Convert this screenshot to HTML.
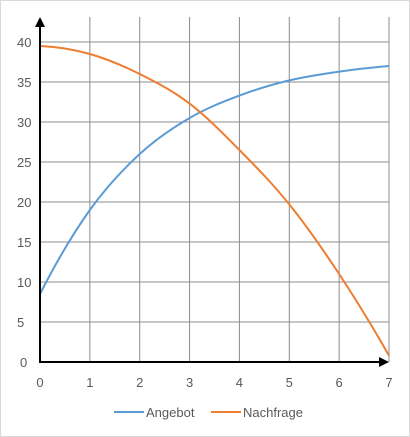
<!DOCTYPE html>
<html><head><meta charset="utf-8"><style>
html,body{margin:0;padding:0;background:#fff;}
svg{display:block;font-family:"Liberation Sans",sans-serif;}
</style></head><body>
<svg id="chart" width="410" height="437" viewBox="0 0 410 437">
<rect x="0.5" y="0.5" width="409" height="436" fill="#fff" stroke="#d9d9d9"/>
<g id="grid"></g>
<g id="ticks"></g>
<g id="series"></g>
<g id="axes"></g>
<g>
<g>
<line x1="114" y1="412" x2="144" y2="412" stroke="#5b9bd5" stroke-width="2"/>
<text x="146" y="417" font-size="13" fill="#595959">Angebot</text></g>
<g>
<line x1="211" y1="412" x2="241" y2="412" stroke="#ed7d31" stroke-width="2"/>
<text x="243" y="417" font-size="13" fill="#595959">Nachfrage</text></g>
</g>
</svg>
<script>
const xTicks=[0,1,2,3,4,5,6,7];
const yTicks=[0,5,10,15,20,25,30,35,40];
const angebot=[8.5,19,26,30.5,33.3,35.2,36.3,37];
const nachfrage=[39.5,38.5,36,32.3,26.5,19.7,11,0.8];
const NS="http://www.w3.org/2000/svg";
const X0=40,X1=389,Y0=362,Y1=42;
const sx=v=>X0+(v-0)/(7-0)*(X1-X0);
const sy=v=>Y0-(v-0)/(40-0)*(Y0-Y1);
function mk(tag,attrs,parent){const e=document.createElementNS(NS,tag);for(const k in attrs)e.setAttribute(k,attrs[k]);parent.appendChild(e);return e;}
const grid=document.getElementById('grid'),ticks=document.getElementById('ticks'),series=document.getElementById('series'),axes=document.getElementById('axes');
yTicks.forEach(t=>{
  if(t>0){const l=mk('line',{x1:X0,x2:X1,y1:sy(t),y2:sy(t),stroke:'#8c8c8c','stroke-width':1},grid);
  
  }
  const tx=mk('text',{x:t===0?20:17,y:sy(t)+5,'font-size':13,fill:'#595959','text-anchor':'start'},ticks);
  tx.textContent=t;
  
  
});
xTicks.forEach(t=>{
  if(t>0){const l=mk('line',{x1:sx(t),x2:sx(t),y1:17,y2:Y0,stroke:'#8c8c8c','stroke-width':1},grid);
  
  }
  const tx=mk('text',{x:sx(t),y:387,'font-size':13,fill:'#595959','text-anchor':'middle'},ticks);
  tx.textContent=t;
  
  
});
function path(vals){
  const n=vals.length;
  const ext=[3*vals[0]-3*vals[1]+vals[2]].concat(vals,[3*vals[n-1]-3*vals[n-2]+vals[n-3]]);
  const p=ext.map((v,i)=>[sx(i-1),sy(v)]);
  let d='M'+p[1][0]+','+p[1][1];
  for(let i=1;i<p.length-2;i++){
    const a=p[i-1],b=p[i],c=p[i+1],e=p[i+2];
    d+=' C'+(b[0]+(c[0]-a[0])/6)+','+(b[1]+(c[1]-a[1])/6)+' '+(c[0]-(e[0]-b[0])/6)+','+(c[1]-(e[1]-b[1])/6)+' '+c[0]+','+c[1];
  }
  return d;
}
const pa=mk('path',{d:path(angebot),fill:'none',stroke:'#5b9bd5','stroke-width':2},series);


const pn=mk('path',{d:path(nachfrage),fill:'none',stroke:'#ed7d31','stroke-width':2},series);


const ya=mk('line',{x1:X0,x2:X0,y1:Y0+1,y2:26,stroke:'#000','stroke-width':2},axes);


const yar=mk('polygon',{points:`${X0-5},27 ${X0+5},27 ${X0},17`,fill:'#000'},axes);


const xa=mk('line',{x1:X0-1,x2:380,y1:Y0,y2:Y0,stroke:'#000','stroke-width':2},axes);


const xar=mk('polygon',{points:`379,${Y0-5} 379,${Y0+5} 389,${Y0}`,fill:'#000'},axes);


</script>
</body></html>
